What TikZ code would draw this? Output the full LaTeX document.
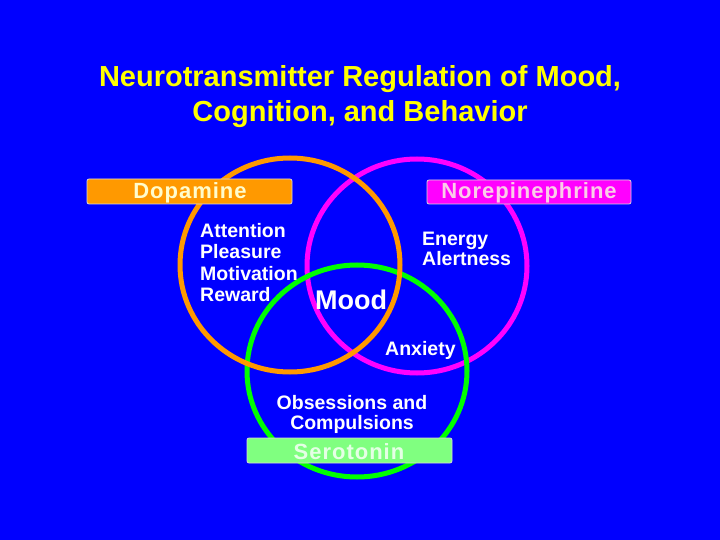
\documentclass[tikz,border=0pt]{standalone}
\usepackage{fontspec}
\usepackage{xcolor}
\usepackage{tikz}
\setmainfont{Liberation Sans}
\newfontfamily\boxfont[LetterSpace=4.5]{Liberation Sans}
\definecolor{slidebg}{HTML}{0000FF}
\definecolor{titleyellow}{HTML}{FFFF00}
\definecolor{dopaorange}{HTML}{FF9900}
\definecolor{noremagenta}{HTML}{FF00FF}
\definecolor{serogreen}{HTML}{00FF00}
\definecolor{seroboxgreen}{HTML}{80FF80}

\tikzset{
  ring/.style={line width=5pt},
  tagbox/.style={draw=white!85!black,line width=0.8pt,rounded corners=2pt,
    minimum width=205pt,minimum height=25pt,inner sep=0pt},
  tagtext/.style={font=\boxfont\bfseries\fontsize{22}{24}\selectfont,anchor=base,inner sep=0pt},
  effect/.style={font=\bfseries\fontsize{19.5}{21.5}\selectfont,text=white,inner sep=0pt}
}

\begin{document}
\begin{tikzpicture}[x=1pt,y=-1pt]
      \fill[slidebg] (0,0) rectangle (720,540);
      % title
      \node[font=\bfseries\fontsize{29}{35}\selectfont,text=titleyellow,align=center,anchor=north,inner sep=0pt]
        (title) at (360,65) {Neurotransmitter Regulation of Mood,\\Cognition, and Behavior};
      % the three rings
      \draw[ring,noremagenta] (417,266) ellipse (110 and 107);
      \draw[ring,serogreen]   (357,371) ellipse (110 and 106);
      \draw[ring,dopaorange]  (290,265) ellipse (110 and 107);
      % name tags
      \node[tagbox,fill=dopaorange] (dopabox) at (189.5,191.5) {};
      \node[tagtext,text=yellow!20] (dopa) at (190,199) {Dopamine};
      \node[tagbox,fill=noremagenta,minimum width=204pt,minimum height=24pt] (norebox) at (529,192) {};
      \node[tagtext,text=magenta!20] (nore) at (529,199) {Norepinephrine};
      \node[tagbox,fill=seroboxgreen] (serobox) at (349.5,450.5) {};
      \node[tagtext,text=green!10] (sero) at (349,459) {Serotonin};
      % effects
      \node[effect,align=left,anchor=north west] (dopafx) at (200,223) {Attention\\Pleasure\\Motivation\\Reward};
      \node[effect,align=left,anchor=north west,font=\bfseries\fontsize{19.5}{20}\selectfont] (norefx) at (422,232) {Energy\\Alertness};
      \node[effect,anchor=base west] (anx) at (385,355) {Anxiety};
      \node[effect,align=center,anchor=north,font=\bfseries\fontsize{19.5}{20}\selectfont] (ocd) at (352,395) {Obsessions and\\Compulsions};
      \node[effect,anchor=base west,font=\bfseries\fontsize{27}{30}\selectfont] (mood) at (315,309) {Mood};
    \end{tikzpicture}
\end{document}
